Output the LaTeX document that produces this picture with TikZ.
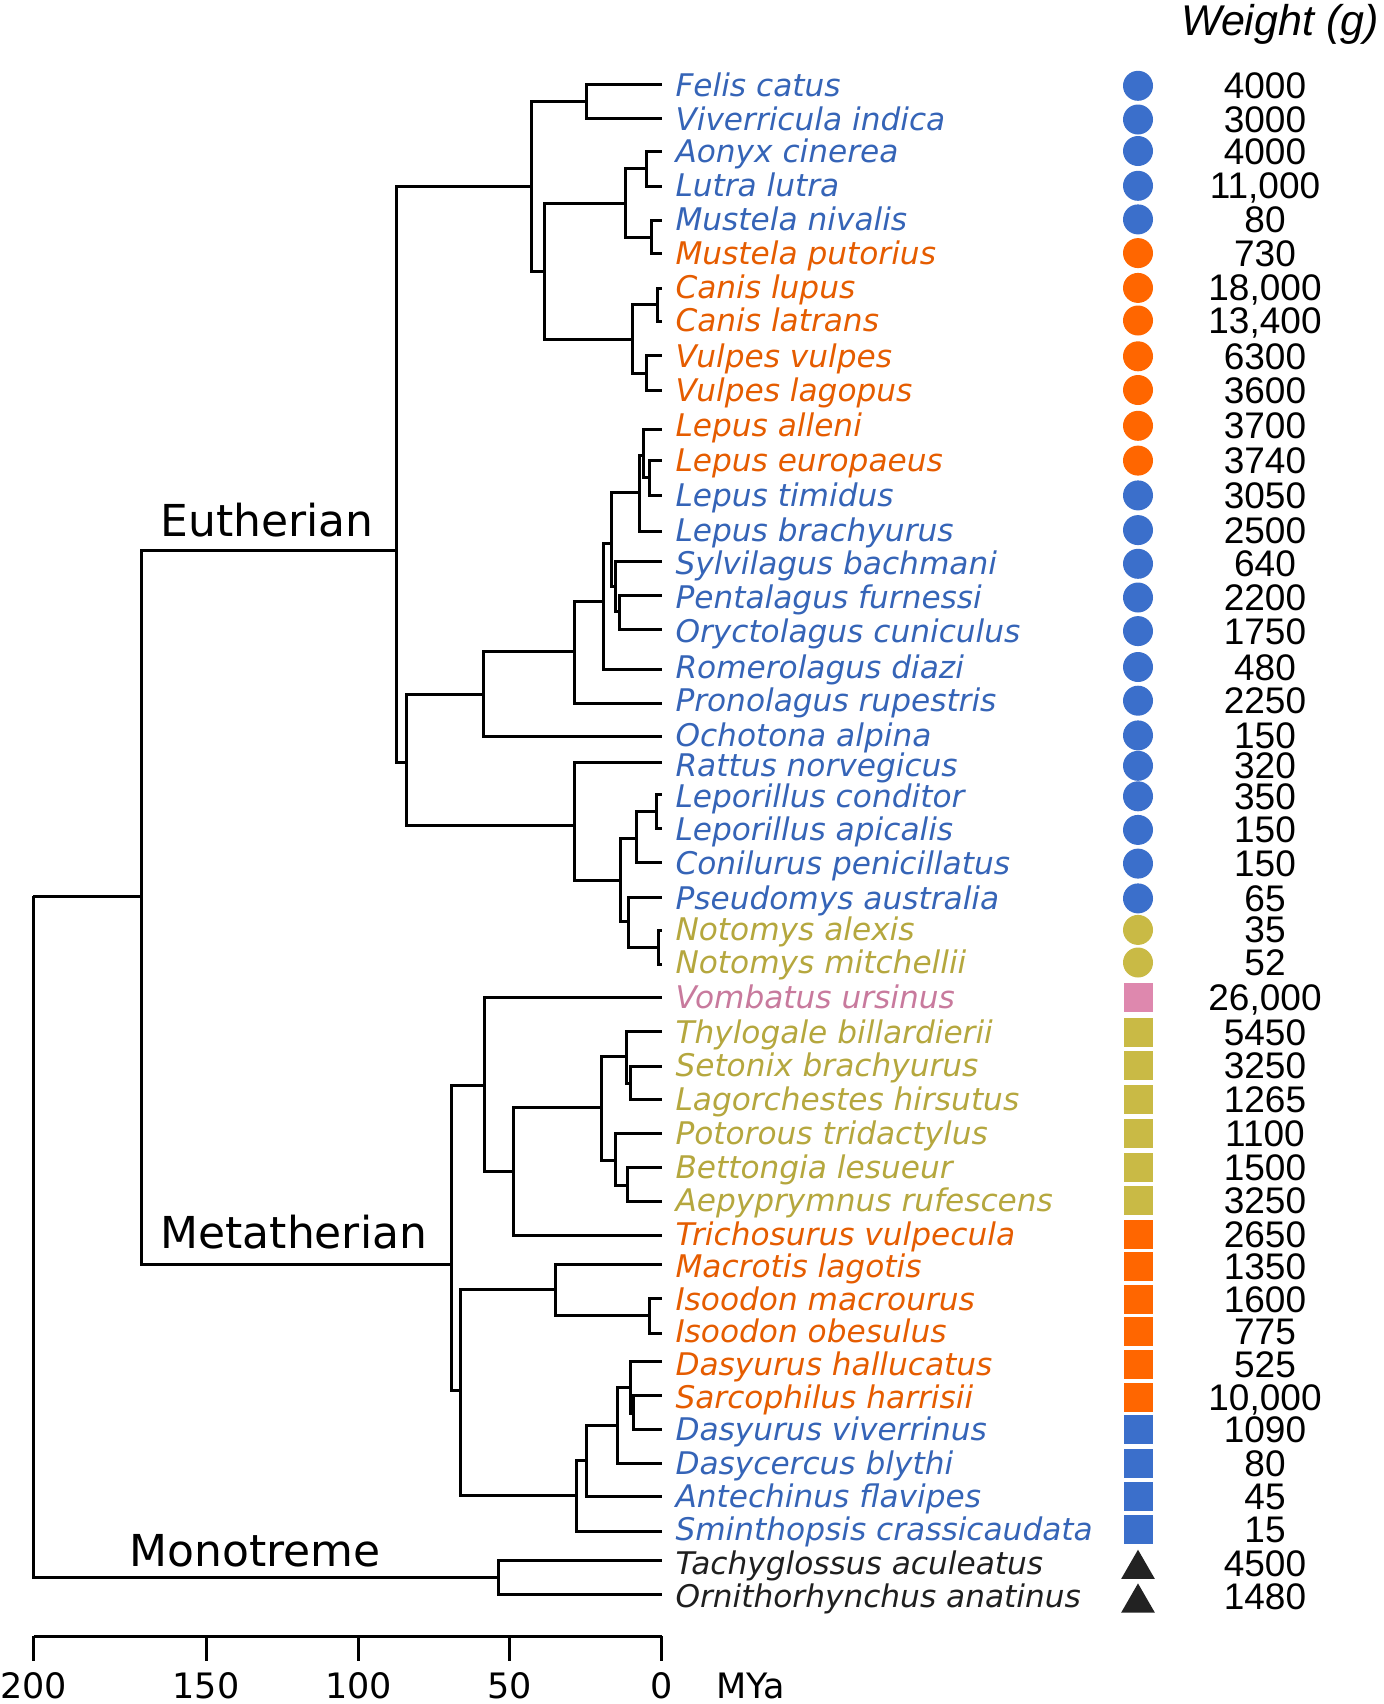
\documentclass[tikz,border=0pt]{standalone}
\usepackage{fontspec}
\setmainfont{DejaVu Sans}
\newfontfamily\arialfont{Liberation Sans}
\usetikzlibrary{shapes.geometric}

\definecolor{bl}{HTML}{3B6FCB}
\definecolor{og}{HTML}{FF6600}
\definecolor{ol}{HTML}{C9BA45}
\definecolor{pk}{HTML}{DE88AE}
\definecolor{bk}{HTML}{222222}

\tikzset{
  spname/.style={anchor=base west, inner sep=0pt, font=\fontsize{15.6}{18}\selectfont\itshape},
  wlab/.style={anchor=base, inner sep=0pt, font=\arialfont\fontsize{18.5}{20}\selectfont},
  circ/.style={circle, inner sep=0pt, minimum size=15pt},
  sq/.style={rectangle, inner sep=0pt, minimum size=14.5pt},
  tri/.style={regular polygon, regular polygon sides=3, inner sep=0pt, minimum size=19.5pt, yshift=-3pt},
  clade/.style={anchor=base west, inner sep=0pt, font=\fontsize{22}{26}\selectfont},
  axlab/.style={anchor=base, inner sep=0pt, font=\fontsize{17.5}{20}\selectfont},
}

\begin{document}
\begin{tikzpicture}[x=0.5pt, y=-0.5pt, line width=1.5pt]
  \useasboundingbox (0,0) rectangle (1384,1704);

  \foreach \i/\y/\r/\nm/\col/\shp/\wt in {
    1/84/85.8/Felis catus/bl/circ/4000,
    2/118.3/119.5/Viverricula indica/bl/circ/3000,
    3/151.7/151/Aonyx cinerea/bl/circ/4000,
    4/186/185.8/Lutra lutra/bl/circ/{11,000},
    5/220/219.4/Mustela nivalis/bl/circ/80,
    6/253.3/253.1/Mustela putorius/og/circ/730,
    7/288.3/287.9/Canis lupus/og/circ/{18,000},
    8/321.7/320.5/Canis latrans/og/circ/{13,400},
    9/355.7/356.3/Vulpes vulpes/og/circ/6300,
    10/390/390/Vulpes lagopus/og/circ/3600,
    11/429.3/425.8/Lepus alleni/og/circ/3700,
    12/460.7/460.6/Lepus europaeus/og/circ/3740,
    13/495/495.4/Lepus timidus/bl/circ/3050,
    14/531.7/530.1/Lepus brachyurus/bl/circ/2500,
    15/561.7/563.8/Sylvilagus bachmani/bl/circ/640,
    16/595/597.5/Pentalagus furnessi/bl/circ/2200,
    17/629/631.1/Oryctolagus cuniculus/bl/circ/1750,
    18/669/667/Romerolagus diazi/bl/circ/480,
    19/703.3/700.7/Pronolagus rupestris/bl/circ/2250,
    20/736.7/735.4/Ochotona alpina/bl/circ/150,
    21/762.7/765.8/Rattus norvegicus/bl/circ/320,
    22/794/796.3/Leporillus conditor/bl/circ/350,
    23/828.3/829.9/Leporillus apicalis/bl/circ/150,
    24/862.7/863.6/Conilurus penicillatus/bl/circ/150,
    25/897.3/898.4/Pseudomys australia/bl/circ/65,
    26/930.7/929.9/Notomys alexis/ol/circ/35,
    27/964.3/962.5/Notomys mitchellii/ol/circ/52,
    28/997.7/997.2/Vombatus ursinus/pk/sq/{26,000},
    29/1031.7/1032/Thylogale billardierii/ol/sq/5450,
    30/1066/1065.7/Setonix brachyurus/ol/sq/3250,
    31/1099.3/1099.3/Lagorchestes hirsutus/ol/sq/1265,
    32/1133.3/1133/Potorous tridactylus/ol/sq/1100,
    33/1167.7/1167.8/Bettongia lesueur/ol/sq/1500,
    34/1201.7/1200.4/Aepyprymnus rufescens/ol/sq/3250,
    35/1235/1234/Trichosurus vulpecula/og/sq/2650,
    36/1264/1266.6/Macrotis lagotis/og/sq/1350,
    37/1298.3/1299.2/Isoodon macrourus/og/sq/1600,
    38/1333.3/1331.8/Isoodon obesulus/og/sq/775,
    39/1361.7/1364.4/Dasyurus hallucatus/og/sq/525,
    40/1395.7/1397/Sarcophilus harrisii/og/sq/{10,000},
    41/1429.3/1429.6/Dasyurus viverrinus/bl/sq/1090,
    42/1463.3/1463.2/Dasycercus blythi/bl/sq/80,
    43/1496.7/1496.9/Antechinus flavipes/bl/sq/45,
    44/1531.7/1529.5/Sminthopsis crassicaudata/bl/sq/15,
    45/1560/1563.2/Tachyglossus aculeatus/bk/tri/4500,
    46/1594/1596.9/Ornithorhynchus anatinus/bk/tri/1480}
  {
    \coordinate (t\i) at (661.7,\y);
    \node[spname, text=\col!90!black] (n\i) at (674,\r+11) {\nm};
    \node[\shp, fill=\col] (s\i) at (1138,\r) {};
    \node[wlab] (w\i) at (1265,\r+13) {\wt};
  }

  \foreach \n/\x/\y in {R/33/896, T/141/896, Eu/396.7/550, Me/451.7/1264,
    Mo/498.3/1577.3, La/531.7/186, EA/406/762.3, Fe/586.7/101, Ca/544.3/271,
    Mu/625/203.3, Cn/632.3/339.3, Lu/646.7/168.3, Ms/651.7/237.3,
    Cs/657.3/304.3, Vu/646.7/373.3, Lg/483.3/694, Mr/574.3/825,
    Lp/574.3/651.7, L1/603.3/601.7, L2/611/543.3, Lep/639.3/492.7,
    Lp2/643.3/455, Lp3/649.3/477.8, L3/615/586.7, L4/619.3/611.7,
    Mr1/620.7/880, Mr2/636/838.3, Lpr/656/811.7, Mr3/628.3/921.7,
    Nt/658.3/947.3, Dp/484/1085, Ph/513.3/1171.7, Mp/601.7/1107.3,
    Mc/626.7/1056.7, Mc2/630.7/1083.3, Pt/615/1160, Pt2/627.3/1185,
    Ag/460/1390.7, Pm/555.7/1289.3, Is/649/1315.7, Ds/576/1495.7,
    Ds1/586.7/1460, Ds2/617.3/1425, Ds3/630.7/1387.3, Ds4/633.3/1413}
    \coordinate (\n) at (\x,\y);

  \foreach \a/\b in {R/T, R/Mo, T/Eu, T/Me, Eu/La, Eu/EA, La/Fe, La/Ca,
    Fe/t1, Fe/t2, Ca/Mu, Ca/Cn, Mu/Lu, Mu/Ms, Lu/t3, Lu/t4, Ms/t5, Ms/t6,
    Cn/Cs, Cn/Vu, Cs/t7, Cs/t8, Vu/t9, Vu/t10, EA/Lg, EA/Mr,
    Lg/Lp, Lg/t20, Lp/L1, Lp/t19, L1/L2, L1/t18, L2/Lep, L2/L3,
    Lep/Lp2, Lep/t14, Lp2/t11, Lp2/Lp3, Lp3/t12, Lp3/t13,
    L3/t15, L3/L4, L4/t16, L4/t17, Mr/t21, Mr/Mr1, Mr1/Mr2, Mr1/Mr3,
    Mr2/Lpr, Mr2/t24, Lpr/t22, Lpr/t23, Mr3/t25, Mr3/Nt, Nt/t26, Nt/t27,
    Me/Dp, Me/Ag, Dp/t28, Dp/Ph, Ph/Mp, Ph/t35, Mp/Mc, Mp/Pt,
    Mc/t29, Mc/Mc2, Mc2/t30, Mc2/t31, Pt/t32, Pt/Pt2, Pt2/t33, Pt2/t34,
    Ag/Pm, Ag/Ds, Pm/t36, Pm/Is, Is/t37, Is/t38, Ds/Ds1, Ds/t44,
    Ds1/Ds2, Ds1/t43, Ds2/Ds3, Ds2/t42, Ds3/t39, Ds3/Ds4, Ds4/t40, Ds4/t41,
    Mo/t45, Mo/t46}
    \draw (\a) |- (\b);

  \node[clade] (eut) at (159,536) {Eutherian};
  \node[clade] (met) at (159,1248) {Metatherian};
  \node[clade] (mon) at (128,1566) {Monotreme};

  \node[anchor=base, inner sep=0pt, font=\arialfont\itshape\fontsize{21.5}{24}\selectfont] (wtitle) at (1280,35) {Weight (g)};

  \foreach \v/\x in {200/33.7, 150/206, 100/358.7, 50/509.7, 0/661.7} {
    \coordinate (a\v) at (\x,1636);
    \draw (a\v) -- ++(0,25);
    \node[axlab] (l\v) at (\x,1698) {\v};
  }
  \draw (a200) -- (a0);
  \node[axlab] (mya) at (750.5,1698) {MYa};
\end{tikzpicture}
\end{document}
